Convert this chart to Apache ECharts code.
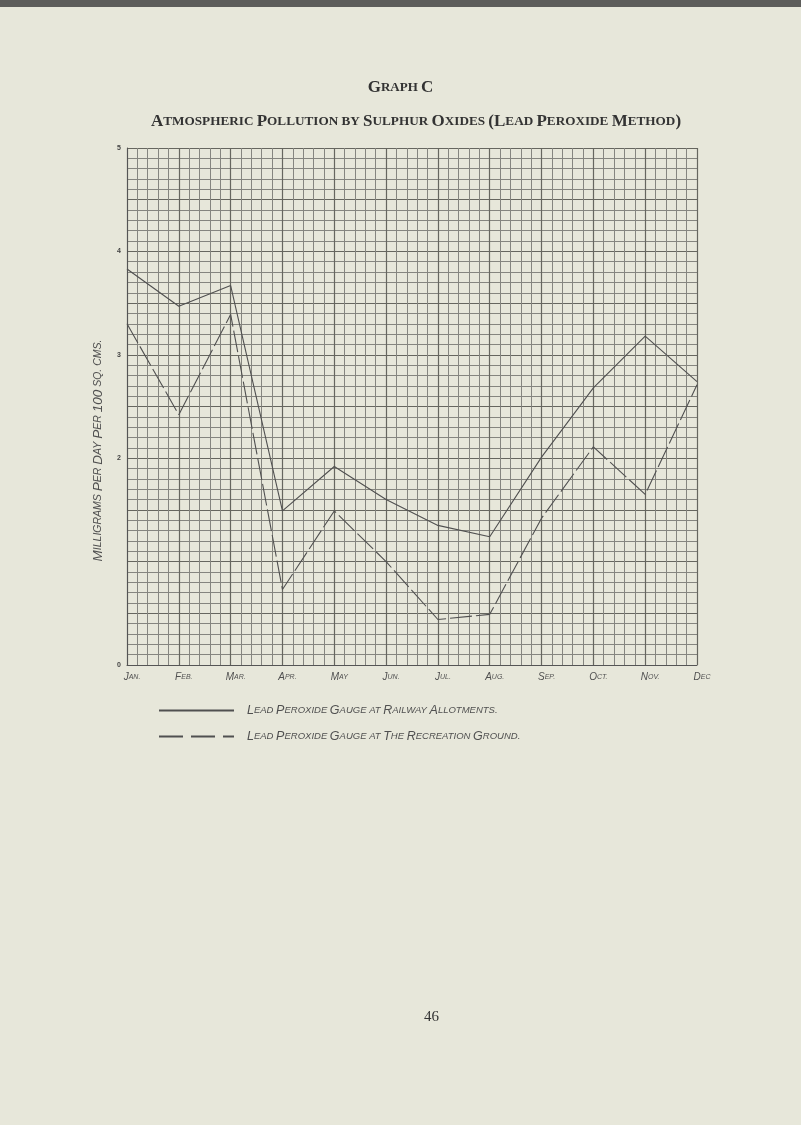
<!DOCTYPE html>
<html>
<head>
<meta charset="utf-8">
<script src="https://cdn.jsdelivr.net/npm/echarts@6/dist/echarts.min.js"></script>
<style>
html,body{margin:0;padding:0;background:#e7e7da;}
#c{width:801px;height:1125px;}
</style>
</head>
<body>
<div id="c"></div>
<script>
// ---- data ----
const months = ['Jan.', 'Feb.', 'Mar.', 'Apr.', 'May', 'Jun.', 'Jul.', 'Aug.', 'Sep.', 'Oct.', 'Nov.', 'Dec'];
const railwayAllotments = [3.83, 3.47, 3.67, 1.49, 1.92, 1.60, 1.35, 1.24, 2.01, 2.68, 3.18, 2.74];
const recreationGround = [3.30, 2.42, 3.39, 0.73, 1.49, 1.00, 0.44, 0.49, 1.42, 2.11, 1.65, 2.71];
const yTickLabels = ['0', '', '2', '3', '4', '5'];
const seriesNames = ['Lead Peroxide Gauge at Railway Allotments.', 'Lead Peroxide Gauge at The Recreation Ground.'];
const titleText = 'Graph C';
const subtitleText = 'Atmospheric Pollution by Sulphur Oxides (Lead Peroxide Method)';
const yAxisTitle = 'Milligrams Per Day Per 100 sq. cms.';

// small-caps via rich text: capitals big, lower-case letters as small capitals
function smallCaps(str, big, small) {
  let out = '', run = '', runType = null;
  const flush = () => { if (run) out += '{' + runType + '|' + run + '}'; run = ''; };
  for (const ch of str) {
    const t = (ch !== ch.toLowerCase() || /[0-9()]/.test(ch)) ? big : small;
    if (t !== runType) { flush(); runType = t; }
    run += ch.toUpperCase();
  }
  flush();
  return out;
}

const hand = '"Liberation Sans", sans-serif';
const serif = '"Liberation Serif", serif';
const ink = '#505050';

const chart = echarts.init(document.getElementById('c'), null, {renderer: 'canvas'});
chart.setOption({
  backgroundColor: '#e7e7da',
  animation: false,
  title: [
    {
      text: smallCaps(titleText, 'a', 'b'),
      left: 'center', top: 74,
      textStyle: { rich: {
        a: { fontFamily: serif, fontSize: 17, color: '#333' },
        b: { fontFamily: serif, fontSize: 13, color: '#333' }
      } }
    },
    {
      text: smallCaps(subtitleText, 'a', 'b'),
      left: 146, top: 108,
      textStyle: { rich: {
        a: { fontFamily: serif, fontSize: 17, color: '#333' },
        b: { fontFamily: serif, fontSize: 13.2, color: '#333' }
      } }
    }
  ],
  grid: { left: 127, right: 104, top: 148, bottom: 460, show: false },
  legend: {
    orient: 'vertical',
    left: 158, top: 704,
    padding: 0,
    itemWidth: 75, itemHeight: 12,
    itemGap: 13,
    itemStyle: { opacity: 0 },
    data: [
      { name: seriesNames[0] },
      { name: seriesNames[1], lineStyle: { type: [24, 8] } }
    ],
    formatter: function (n) { return smallCaps(n, 'a', 'b'); },
    textStyle: {
      padding: [0, 0, 0, 8],
      rich: {
        a: { fontFamily: hand, fontStyle: 'italic', fontSize: 12.5, color: ink },
        b: { fontFamily: hand, fontStyle: 'italic', fontSize: 9.5, color: ink }
      }
    }
  },
  xAxis: {
    type: 'value', min: 0, max: 11, interval: 1,
    axisLine: { show: true, lineStyle: { color: '#555', width: 1 } },
    axisTick: { show: false },
    axisLabel: {
      margin: 7,
      padding: [0, 0, 0, 10],
      formatter: function (v) { return smallCaps(months[v] || '', 'a', 'b'); },
      rich: {
        a: { fontFamily: hand, fontStyle: 'italic', fontSize: 10, color: ink },
        b: { fontFamily: hand, fontStyle: 'italic', fontSize: 7, color: ink }
      }
    },
    splitLine: { show: true, lineStyle: { color: '#66665f', width: 1.2 } },
    minorTick: { show: false, splitNumber: 5 },
    minorSplitLine: { show: true, lineStyle: { color: '#85857f', width: 1 } }
  },
  yAxis: {
    type: 'value', min: 0, max: 5, interval: 0.5,
    name: smallCaps(yAxisTitle, 'a', 'b'),
    nameLocation: 'middle', nameRotate: 90, nameGap: 22,
    nameTextStyle: {
      padding: [0, 88, 0, 0],
      rich: {
        a: { fontFamily: hand, fontStyle: 'italic', fontSize: 13.5, color: ink },
        b: { fontFamily: hand, fontStyle: 'italic', fontSize: 10.5, color: ink }
      }
    },
    axisLine: { show: true, lineStyle: { color: '#555', width: 1 } },
    axisTick: { show: false },
    axisLabel: {
      margin: 6,
      fontFamily: hand, fontSize: 7, fontWeight: 'bold', color: '#444',
      formatter: function (v) { return Number.isInteger(v) ? yTickLabels[v] : ''; }
    },
    splitLine: { show: true, lineStyle: { color: '#66665f', width: 1.2 } },
    minorTick: { show: false, splitNumber: 5 },
    minorSplitLine: { show: true, lineStyle: { color: '#85857f', width: 1 } }
  },
  series: [
    {
      name: seriesNames[0], type: 'line', symbol: 'none',
      data: railwayAllotments.map((v, i) => [i, v]),
      lineStyle: { color: '#505050', width: 1.1, type: 'solid' },
      itemStyle: { color: '#505050' }
    },
    {
      name: seriesNames[1], type: 'line', symbol: 'none',
      data: recreationGround.map((v, i) => [i, v]),
      lineStyle: { color: '#505050', width: 1.1, type: [22, 4] },
      itemStyle: { color: '#505050' }
    }
  ],
  graphic: [
    { type: 'rect', shape: { x: 0, y: 0, width: 801, height: 7 }, style: { fill: '#5d5d5b' } },
    { type: 'text', left: 424, top: 1010, style: { text: '46', font: '15px "Liberation Serif", serif', fill: '#333' } }
  ]
});
</script>
</body>
</html>
